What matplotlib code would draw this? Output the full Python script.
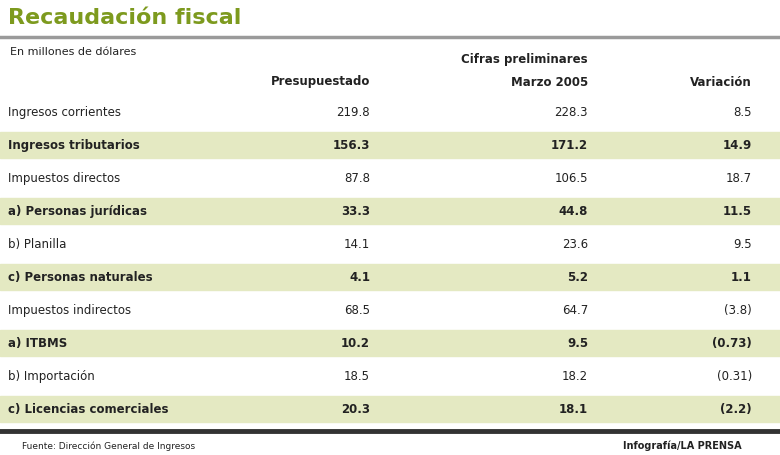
import matplotlib
matplotlib.use("Agg")
import matplotlib.pyplot as plt

categories = ["Ingresos corrientes", "Ingresos tributarios", "Impuestos directos",
              "a) Personas jurídicas", "b) Planilla", "c) Personas naturales",
              "Impuestos indirectos", "a) ITBMS", "b) Importación", "c) Licencias comerciales"]
presupuestado = ["219.8", "156.3", "87.8", "33.3", "14.1", "4.1", "68.5", "10.2", "18.5", "20.3"]
preliminares = ["228.3", "171.2", "106.5", "44.8", "23.6", "5.2", "64.7", "9.5", "18.2", "18.1"]
variacion = ["8.5", "14.9", "18.7", "11.5", "9.5", "1.1", "(3.8)", "(0.73)", "(0.31)", "(2.2)"]

fig = plt.figure(figsize=(7.8, 4.56), dpi=100)
ax = fig.add_axes([0, 0, 1, 1])
ax.set_xlim(0, 780)
ax.set_ylim(456, 0)
ax.axis("off")

ax.text(8, 18, "Recaudación fiscal", fontsize=16, fontweight="bold", color="#7d9a1e", va="center")
ax.plot([0, 780], [38, 38], color="#9a9a9a", lw=2.5)
ax.text(10, 52, "En millones de dólares", fontsize=8, va="center", color="#222")
ax.text(588, 60, "Cifras preliminares", fontsize=8.5, fontweight="bold", ha="right", va="center", color="#222")
ax.text(588, 82, "Marzo 2005", fontsize=8.5, fontweight="bold", ha="right", va="center", color="#222")
ax.text(370, 82, "Presupuestado", fontsize=8.5, fontweight="bold", ha="right", va="center", color="#222")
ax.text(752, 82, "Variación", fontsize=8.5, fontweight="bold", ha="right", va="center", color="#222")

y0, dy = 113, 33
for i, cat in enumerate(categories):
    y = y0 + i * dy
    bold = i % 2 == 1
    if bold:
        ax.axhspan(y - 13, y + 13, color="#e4e9c2", zorder=0)
    fw = "bold" if bold else "normal"
    ax.text(8, y, cat, fontsize=8.5, fontweight=fw, va="center", color="#222")
    ax.text(370, y, presupuestado[i], fontsize=8.5, fontweight=fw, ha="right", va="center", color="#222")
    ax.text(588, y, preliminares[i], fontsize=8.5, fontweight=fw, ha="right", va="center", color="#222")
    ax.text(752, y, variacion[i], fontsize=8.5, fontweight=fw, ha="right", va="center", color="#222")

ax.plot([0, 780], [432, 432], color="#333", lw=3.5)
ax.text(22, 446, "Fuente: Dirección General de Ingresos", fontsize=6.5, va="center", color="#222")
ax.text(742, 446, "Infografía/LA PRENSA", fontsize=7, fontweight="bold", ha="right", va="center", color="#222")

fig.savefig("out.png", dpi=100)
